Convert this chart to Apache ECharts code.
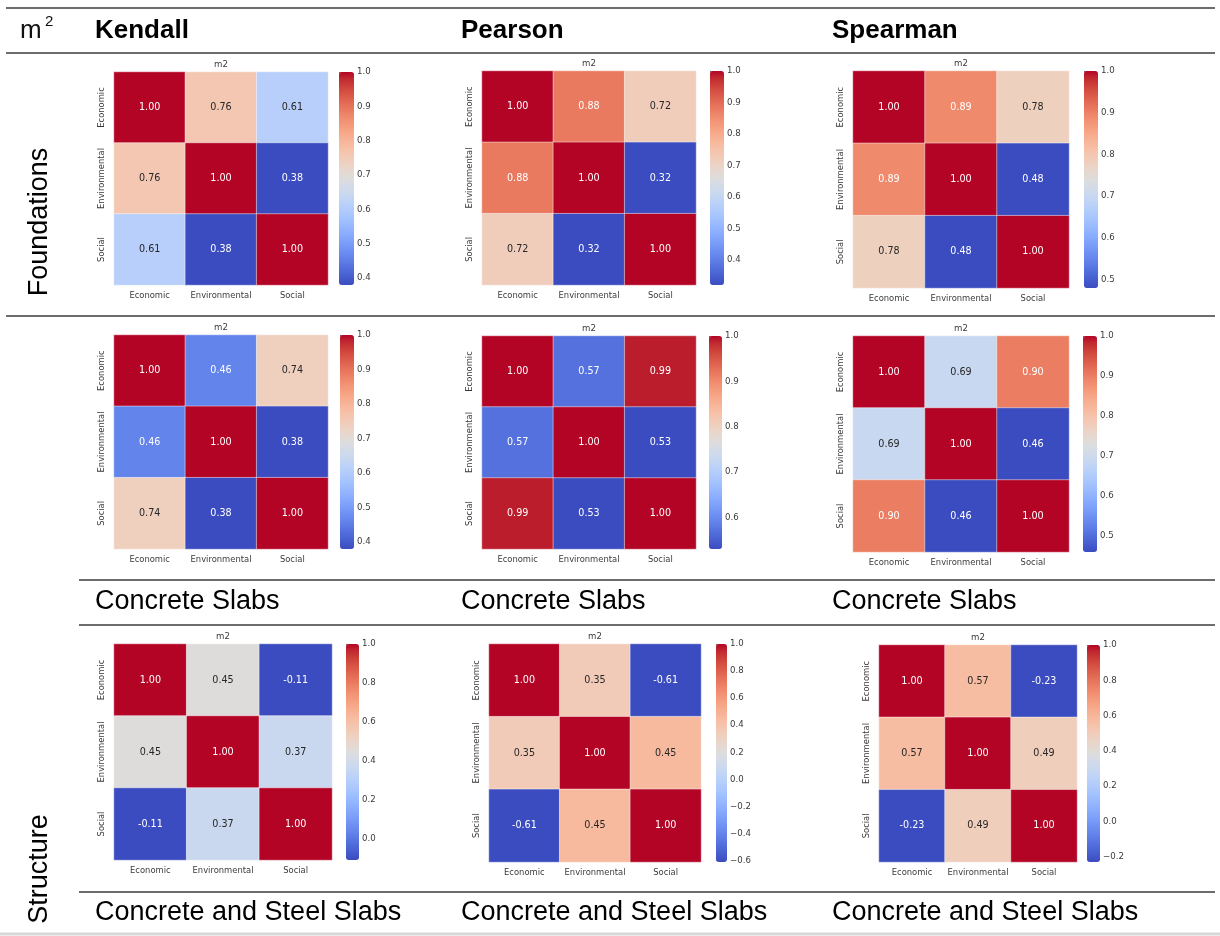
<!DOCTYPE html>
<html>
<head>
<meta charset="utf-8">
<script src="https://cdn.jsdelivr.net/npm/echarts@6/dist/echarts.min.js"></script>
<style>
  html, body { margin: 0; padding: 0; background: #fff; }
  #chart { width: 1220px; height: 936px; }
</style>
</head>
<body>
<div id="chart"></div>
<script>
// Criteria shared by every correlation matrix
const CATS = ['Economic', 'Environmental', 'Social'];

// Foundations (m2)
const foundKendall  = [[1.00, 0.76, 0.61], [0.76, 1.00, 0.38], [0.61, 0.38, 1.00]];
const foundPearson  = [[1.00, 0.88, 0.72], [0.88, 1.00, 0.32], [0.72, 0.32, 1.00]];
const foundSpearman = [[1.00, 0.89, 0.78], [0.89, 1.00, 0.48], [0.78, 0.48, 1.00]];

// Structure – concrete slabs (m2)
const slabKendall  = [[1.00, 0.46, 0.74], [0.46, 1.00, 0.38], [0.74, 0.38, 1.00]];
const slabPearson  = [[1.00, 0.57, 0.99], [0.57, 1.00, 0.53], [0.99, 0.53, 1.00]];
const slabSpearman = [[1.00, 0.69, 0.90], [0.69, 1.00, 0.46], [0.90, 0.46, 1.00]];

// Structure – concrete and steel slabs (m2)
const steelKendall  = [[1.00, 0.45, -0.11], [0.45, 1.00, 0.37], [-0.11, 0.37, 1.00]];
const steelPearson  = [[1.00, 0.35, -0.61], [0.35, 1.00, 0.45], [-0.61, 0.45, 1.00]];
const steelSpearman = [[1.00, 0.57, -0.23], [0.57, 1.00, 0.49], [-0.23, 0.49, 1.00]];

// Colour-bar tick labels
const ticksFoundKendall  = [0.4, 0.5, 0.6, 0.7, 0.8, 0.9, 1.0];
const ticksFoundPearson  = [0.4, 0.5, 0.6, 0.7, 0.8, 0.9, 1.0];
const ticksFoundSpearman = [0.5, 0.6, 0.7, 0.8, 0.9, 1.0];
const ticksSlabKendall   = [0.4, 0.5, 0.6, 0.7, 0.8, 0.9, 1.0];
const ticksSlabPearson   = [0.6, 0.7, 0.8, 0.9, 1.0];
const ticksSlabSpearman  = [0.5, 0.6, 0.7, 0.8, 0.9, 1.0];
const ticksSteelKendall  = [0.0, 0.2, 0.4, 0.6, 0.8, 1.0];
const ticksSteelPearson  = [-0.6, -0.4, -0.2, 0.0, 0.2, 0.4, 0.6, 0.8, 1.0];
const ticksSteelSpearman = [-0.2, 0.0, 0.2, 0.4, 0.6, 0.8, 1.0];

// Table texts
const methodHeaders = ['Kendall', 'Pearson', 'Spearman'];
const rowLabels = ['Foundations', 'Structure'];
const subLabels = ['Concrete Slabs', 'Concrete and Steel Slabs'];
const panelTitle = 'm2';

// coolwarm colour map (Moreland diverging table, 33 stops)
const COOLWARM = [
  '#3b4cc0', '#445acc', '#4d68d7', '#5775e1', '#6282ea', '#6c8ef1', '#779af7', '#82a5fb',
  '#8db0fe', '#98b9ff', '#a3c2ff', '#aec9fd', '#b8d0f9', '#c2d5f4', '#ccd9ee', '#d5dbe6',
  '#dddddd', '#e5d8d1', '#ecd3c5', '#f1ccb9', '#f5c4ad', '#f7bba0', '#f7b194', '#f7a687',
  '#f49a7b', '#f18d6f', '#ec7f63', '#e57058', '#de604d', '#d55042', '#cb3e38', '#c0282f',
  '#b40426'
];

function hexToRgb(h) {
  return [parseInt(h.slice(1, 3), 16), parseInt(h.slice(3, 5), 16), parseInt(h.slice(5, 7), 16)];
}
function cmap(t) {
  t = Math.max(0, Math.min(1, t));
  const p = t * (COOLWARM.length - 1);
  const i = Math.min(Math.floor(p), COOLWARM.length - 2);
  const f = p - i;
  const a = hexToRgb(COOLWARM[i]), b = hexToRgb(COOLWARM[i + 1]);
  return a.map((v, k) => v + (b[k] - v) * f);
}
function luminance(rgb) {
  const lin = rgb.map(c => {
    c /= 255;
    return c <= 0.03928 ? c / 12.92 : Math.pow((c + 0.055) / 1.055, 2.4);
  });
  return 0.2126 * lin[0] + 0.7152 * lin[1] + 0.0722 * lin[2];
}

// Panel placement: heat-map rectangle [left, top, width, height] and colour-bar [left, width]
const panels = [
  { m: foundKendall,  ticks: ticksFoundKendall,  rect: [114, 72, 214, 213], bar: [339, 15] },
  { m: foundPearson,  ticks: ticksFoundPearson,  rect: [482, 71, 214, 214], bar: [710, 14] },
  { m: foundSpearman, ticks: ticksFoundSpearman, rect: [853, 71, 216, 217], bar: [1084, 14] },
  { m: slabKendall,   ticks: ticksSlabKendall,   rect: [114, 335, 214, 214], bar: [340, 14] },
  { m: slabPearson,   ticks: ticksSlabPearson,   rect: [482, 336, 214, 213], bar: [709, 13] },
  { m: slabSpearman,  ticks: ticksSlabSpearman,  rect: [853, 336, 216, 216], bar: [1083, 14] },
  { m: steelKendall,  ticks: ticksSteelKendall,  rect: [114, 644, 218, 216], bar: [346, 13] },
  { m: steelPearson,  ticks: ticksSteelPearson,  rect: [489, 644, 212, 218], bar: [716, 11] },
  { m: steelSpearman, ticks: ticksSteelSpearman, rect: [879, 645, 198, 217], bar: [1087, 13] }
];

const FONT = 'DejaVu Sans';
const TXT = '#3a3a3a';

const grid = [], xAxis = [], yAxis = [], series = [], visualMap = [], graphic = [];

panels.forEach((p, i) => {
  const [L, T, W, H] = p.rect;
  const flat = p.m.flat();
  const vmin = Math.min(...flat), vmax = Math.max(...flat);

  // heat-map grid
  grid.push({ left: L, top: T, width: W, height: H, containLabel: false });
  xAxis.push({
    type: 'category', gridIndex: 2 * i, data: CATS, position: 'bottom',
    axisLine: { show: false }, axisTick: { show: false }, splitLine: { show: false },
    axisLabel: { interval: 0, fontFamily: FONT, fontSize: 8.4, color: TXT, margin: 7 }
  });
  yAxis.push({
    type: 'category', gridIndex: 2 * i, data: CATS, inverse: true,
    axisLine: { show: false }, axisTick: { show: false }, splitLine: { show: false },
    axisLabel: { interval: 0, fontFamily: FONT, fontSize: 8.4, color: TXT, rotate: 90, margin: 8 }
  });

  // colour-bar axis grid
  grid.push({ left: p.bar[0], top: T, width: p.bar[1], height: H, containLabel: false });
  xAxis.push({ type: 'value', gridIndex: 2 * i + 1, show: false, min: 0, max: 1 });
  yAxis.push({
    type: 'value', gridIndex: 2 * i + 1, position: 'right', min: vmin, max: vmax,
    axisLine: { show: false }, splitLine: { show: false },
    axisTick: { show: true, customValues: p.ticks, length: 3.5, lineStyle: { color: TXT, width: 0.8 } },
    axisLabel: {
      show: true, customValues: p.ticks, fontFamily: FONT, fontSize: 8.6, color: TXT, margin: 3,
      formatter: v => v.toFixed(1).replace('-', '\u2212')
    }
  });

  const data = [];
  p.m.forEach((row, r) => row.forEach((v, c) => {
    const lum = luminance(cmap((v - vmin) / (vmax - vmin)));
    data.push({ value: [c, r, v], label: { color: lum > 0.408 ? '#262626' : '#ffffff' } });
  }));

  series.push({
    type: 'heatmap', xAxisIndex: 2 * i, yAxisIndex: 2 * i, data,
    label: { show: true, fontFamily: FONT, fontSize: 9.6, formatter: d => d.value[2].toFixed(2) },
    itemStyle: { borderColor: 'rgba(255,255,255,0.45)', borderWidth: 1 },
    emphasis: { disabled: true }
  });

  visualMap.push({
    type: 'continuous', seriesIndex: i, min: vmin, max: vmax, dimension: 2,
    orient: 'vertical', left: p.bar[0], top: T, itemWidth: p.bar[1], itemHeight: H,
    padding: 0, calculable: false, showLabel: false, text: null, hoverLink: false,
    inRange: { color: COOLWARM }
  });

  graphic.push({
    type: 'text', x: L + W / 2, y: T - 7,
    style: { text: panelTitle, fontFamily: FONT, fontSize: 8.6, fill: TXT, align: 'center', verticalAlign: 'middle' }
  });
});

// Table rules
const RULE = '#3c3c3c';
function rule(x1, y, x2, color, w) {
  graphic.push({ type: 'line', shape: { x1, y1: y, x2, y2: y }, style: { stroke: color || RULE, lineWidth: w || 1.5 } });
}
rule(6, 8, 1215);
rule(6, 53, 1215);
rule(6, 316, 1215);
rule(79, 580, 1215);
rule(79, 625, 1215);
rule(79, 892, 1215);
rule(0, 934, 1220, '#d8d8d8', 3);

// Header row
const TFONT = 'Liberation Sans';
graphic.push({ type: 'text', x: 20, y: 31, style: { text: 'm', fontFamily: TFONT, fontSize: 26, fill: '#111', align: 'left', verticalAlign: 'middle' } });
graphic.push({ type: 'text', x: 45, y: 22, style: { text: '2', fontFamily: TFONT, fontSize: 15, fill: '#111', align: 'left', verticalAlign: 'middle' } });
const colX = [95, 461, 832];
methodHeaders.forEach((h, k) => {
  graphic.push({ type: 'text', x: colX[k], y: 31, style: { text: h, fontFamily: TFONT, fontWeight: 'bold', fontSize: 26, fill: '#000', align: 'left', verticalAlign: 'middle' } });
});

// Row labels (vertical)
const rowY = [222, 869];
rowLabels.forEach((t, k) => {
  graphic.push({ type: 'text', x: 40, y: rowY[k], rotation: Math.PI / 2,
    style: { text: t, fontFamily: TFONT, fontSize: 27, fill: '#000', align: 'center', verticalAlign: 'middle' } });
});

// Sub-category labels under each column
const subY = [602, 913];
subLabels.forEach((t, k) => {
  colX.forEach(x => {
    graphic.push({ type: 'text', x, y: subY[k], style: { text: t, fontFamily: TFONT, fontSize: 27, fill: '#000', align: 'left', verticalAlign: 'middle' } });
  });
});

const chart = echarts.init(document.getElementById('chart'), null, { renderer: 'canvas' });
chart.setOption({
  animation: false,
  backgroundColor: '#ffffff',
  grid, xAxis, yAxis, series, visualMap, graphic
});
</script>
</body>
</html>
